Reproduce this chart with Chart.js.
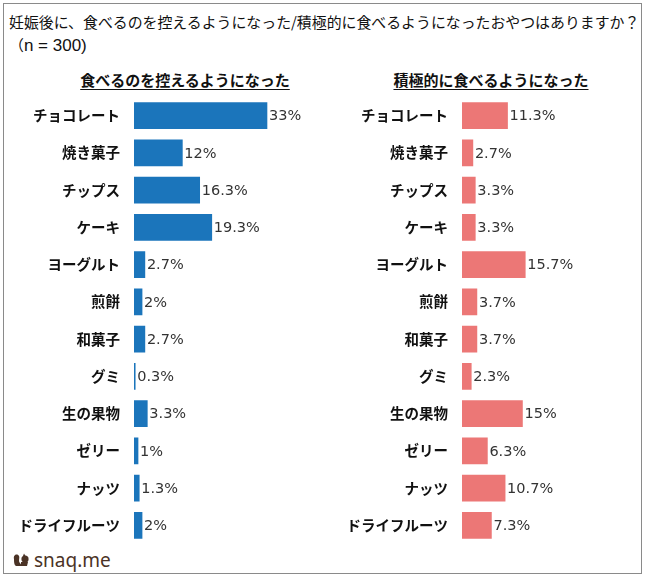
<!DOCTYPE html>
<html>
<head>
<meta charset="utf-8">
<script src="https://cdn.jsdelivr.net/npm/chart.js@4"></script>
<style>
  html, body { margin:0; padding:0; background:#fff; }
  body { width:650px; height:579px; position:relative; overflow:hidden; font-family:"Noto Sans CJK JP", sans-serif; color:#222; }
  .frame { position:absolute; left:3px; top:3px; width:637px; height:569px; border:1px solid #8a8a8a; }
  .title { position:absolute; left:9px; top:10px; font-size:14.9px; line-height:23px; color:#111; white-space:nowrap; }
  .title .lat { font-family:"Liberation Sans", sans-serif; font-size:17px; }
  .sub { position:absolute; top:69px; font-size:15px; font-weight:bold; text-decoration:underline; text-underline-offset:3px; color:#111; transform:translateX(-50%); white-space:nowrap; }
  canvas { position:absolute; }
  .logo { position:absolute; left:13px; top:549px; font-family:"Noto Sans", sans-serif; font-size:19px; color:#4b3326; line-height:22px; display:flex; align-items:center; gap:3px; }
</style>
</head>
<body>
<div class="frame"></div>
<div class="title">妊娠後に、食べるのを控えるようになった/積極的に食べるようになったおやつはありますか？<br>（<span class="lat">n = 300)</span></div>
<div class="sub" style="left:185px">食べるのを控えるようになった</div>
<div class="sub" style="left:491px">積極的に食べるようになった</div>
<canvas id="left" width="330" height="447" style="left:0;top:97px"></canvas>
<canvas id="right" width="320" height="447" style="left:330px;top:97px"></canvas>
<div class="logo">
  <svg width="18" height="14" viewBox="0 0 18 14"><path d="M1 6 C0 2 4 0 6 3 C7 5 5 8 7 10 L9 13 L3 13 C1 12 1 9 1 6Z" fill="#4b3326"/><circle cx="12" cy="6" r="3.6" fill="#4b3326"/><path d="M10 3 L11 0.5 L12.5 3Z" fill="#4b3326"/><path d="M8 9 L15 9 L14 13 L8 13Z" fill="#4b3326"/></svg>
  <span>snaq.me</span>
</div>
<script>
const categories = ['チョコレート','焼き菓子','チップス','ケーキ','ヨーグルト','煎餅','和菓子','グミ','生の果物','ゼリー','ナッツ','ドライフルーツ'];
const reduced = [33, 12, 16.3, 19.3, 2.7, 2, 2.7, 0.3, 3.3, 1, 1.3, 2];
const increased = [11.3, 2.7, 3.3, 3.3, 15.7, 3.7, 3.7, 2.3, 15, 6.3, 10.7, 7.3];
const xMax = 45;

// value labels at the end of each bar
const valueLabels = {
  id: 'valueLabels',
  afterDatasetsDraw(chart) {
    const c = chart.ctx;
    const ds = chart.data.datasets[0];
    c.save();
    c.font = '14.5px "DejaVu Sans", sans-serif';
    c.fillStyle = '#333';
    c.textBaseline = 'middle';
    chart.getDatasetMeta(0).data.forEach((bar, i) => {
      c.fillText(ds.data[i] + '%', bar.x + 2, bar.y + 1);
    });
    c.restore();
  }
};

function makeChart(id, data, color, axisWidth, padRight) {
  return new Chart(document.getElementById(id), {
    type: 'bar',
    data: { labels: categories, datasets: [{ data: data, backgroundColor: color, barThickness: 26 }] },
    options: {
      indexAxis: 'y',
      responsive: false,
      animation: false,
      layout: { autoPadding: false, padding: { right: padRight, top: 0, bottom: 0, left: 0 } },
      plugins: { legend: { display: false }, tooltip: { enabled: false } },
      scales: {
        x: { display: false, min: 0, max: xMax },
        y: {
          grid: { display: false, drawTicks: false },
          border: { display: false },
          ticks: { padding: 14, color: '#111', font: { family: '"Noto Sans CJK JP"', size: 14.5, weight: 'bold' } },
          afterFit(axis) {
            axis.width = axisWidth;
            axis.paddingTop = 0;
            axis.paddingBottom = 0;
          }
        }
      }
    },
    plugins: [valueLabels]
  });
}

makeChart('left', reduced, '#1b75bb', 134, 330 - 134 - xMax * 4.03);
makeChart('right', increased, '#ec7776', 132, 320 - 132 - xMax * 4.03);
</script>
</body>
</html>
